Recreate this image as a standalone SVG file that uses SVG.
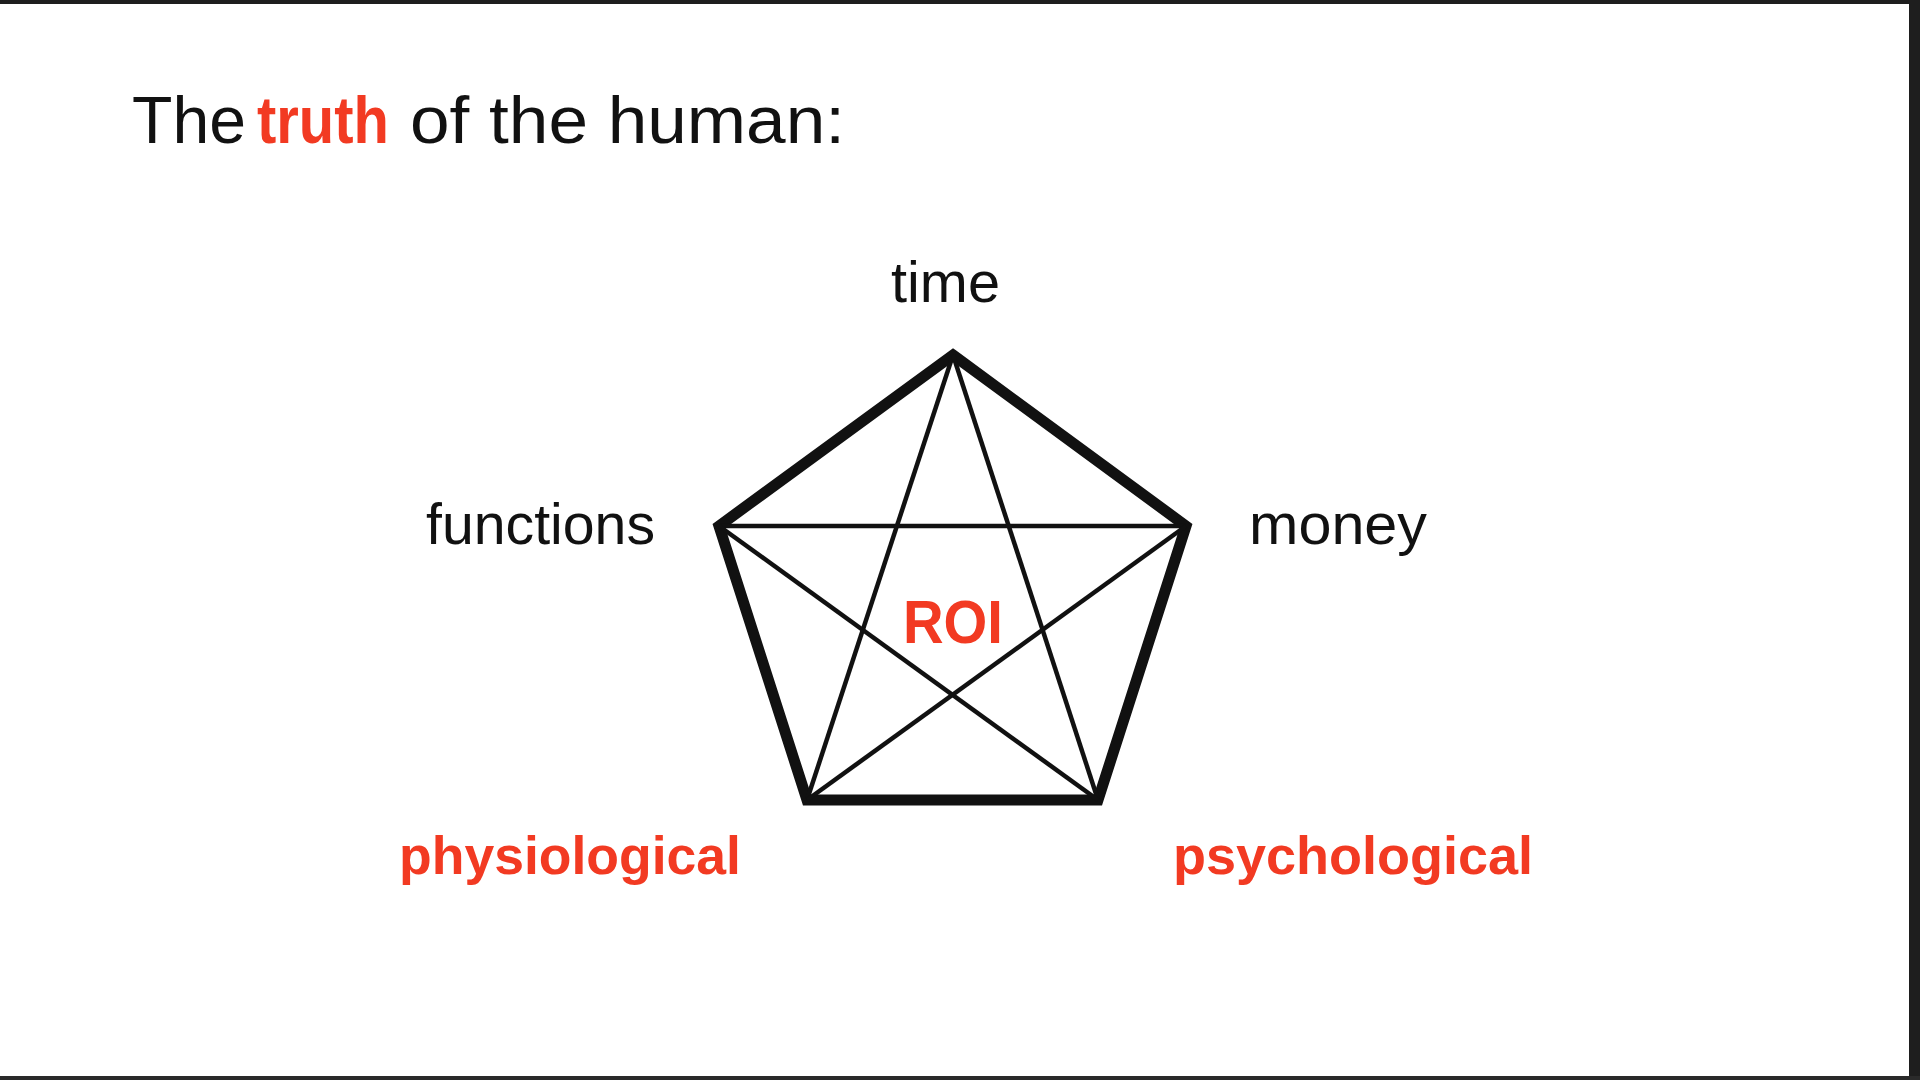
<svg xmlns="http://www.w3.org/2000/svg" width="1920" height="1080" viewBox="0 0 1920 1080">
<style>
.lbl{font-family:"Liberation Sans",Arial,sans-serif;font-size:57px;fill:#111}
.red{font-family:"Liberation Sans",Arial,sans-serif;font-weight:bold;fill:#f23a22}
.edge{fill:none;stroke:#111;stroke-width:11;stroke-linejoin:miter}
.diag{stroke:#111;stroke-width:4.5;fill:none}
</style>
<rect x="0" y="0" width="1920" height="1080" fill="#ffffff"/>
<rect x="0" y="0" width="1920" height="4" fill="#1e1e1e"/>
<rect x="1909" y="0" width="11" height="1080" fill="#1e1e1e"/>
<rect x="0" y="1076" width="1920" height="4" fill="#2a2a2a"/>
<g id="title">
<text class="lbl" y="143" style="font-size:66px"><tspan x="132" textLength="114" lengthAdjust="spacingAndGlyphs">The</tspan><tspan x="257" style="font-weight:bold;fill:#f23a22" textLength="132" lengthAdjust="spacingAndGlyphs">truth</tspan><tspan x="410" textLength="435" lengthAdjust="spacingAndGlyphs">of the human:</tspan></text>
</g>
<g id="connectors">
<polygon class="edge" points="953,355 1186,526 1098,800 807,800 719,526"/>
<line class="diag" x1="953" y1="355" x2="807" y2="800"/>
<line class="diag" x1="953" y1="355" x2="1098" y2="800"/>
<line class="diag" x1="719" y1="526" x2="1186" y2="526"/>
<line class="diag" x1="719" y1="526" x2="1098" y2="800"/>
<line class="diag" x1="1186" y1="526" x2="807" y2="800"/>
</g>
<g id="node-time"><text class="lbl" x="891" y="302" textLength="109" lengthAdjust="spacingAndGlyphs">time</text></g>
<g id="node-functions"><text class="lbl" x="426" y="544" textLength="229" lengthAdjust="spacingAndGlyphs">functions</text></g>
<g id="node-money"><text class="lbl" x="1249" y="544" textLength="178" lengthAdjust="spacingAndGlyphs">money</text></g>
<g id="node-roi"><text class="red" x="903" y="643" style="font-size:62px" textLength="100" lengthAdjust="spacingAndGlyphs">ROI</text></g>
<g id="node-physiological"><text class="red" x="399" y="874" style="font-size:54px" textLength="342" lengthAdjust="spacingAndGlyphs">physiological</text></g>
<g id="node-psychological"><text class="red" x="1173" y="874" style="font-size:54px" textLength="360" lengthAdjust="spacingAndGlyphs">psychological</text></g>
</svg>
